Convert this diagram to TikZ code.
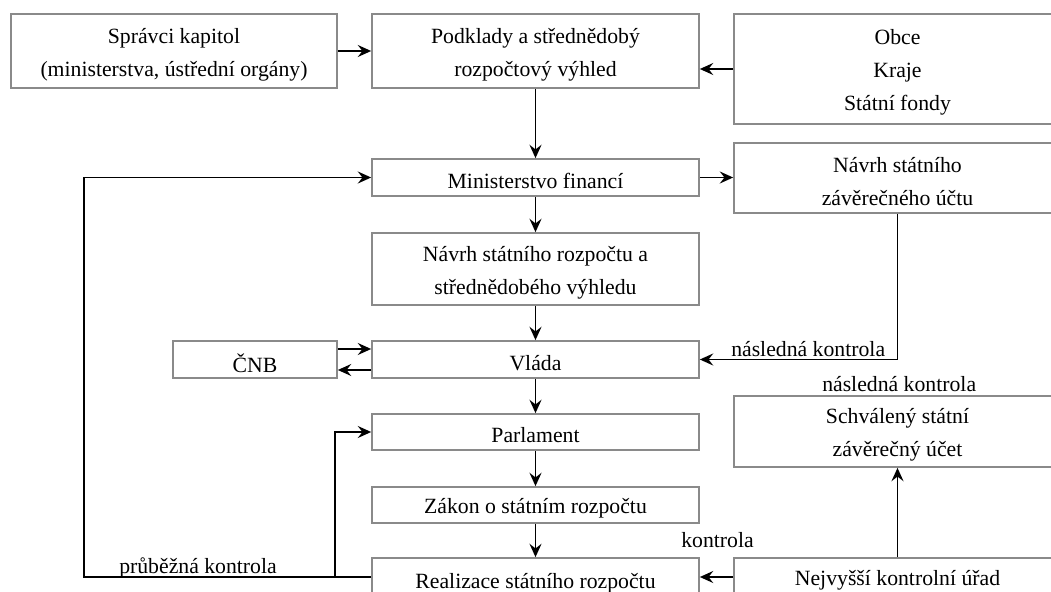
\documentclass[tikz,border=0pt]{standalone}
\usepackage{fontspec}
\setmainfont{Liberation Serif}
\usetikzlibrary{arrows.meta}
\definecolor{boxgray}{HTML}{8A8A8A}
\def\u{0.75pt}
% box frame plus its text, the text set slightly low in the frame
\newcommand\boxnode[5]{%
  \node[frame, minimum width=#3*\u, minimum height=#4*\u] (#1) at (#2) {};
  \node[txt, align=center, inner sep=0pt, yshift=-2.6pt] (#1-t) at (#1.center) {#5};}
\begin{document}
\begin{tikzpicture}[x=0.75pt, y=-0.75pt,
  txt/.style={font=\fontsize{16.3pt}{24.75pt}\selectfont},
  frame/.style={draw=boxgray, line width=1.3pt, fill=white, inner sep=0pt},
  arr/.style={draw=black, line width=1.3pt, -{Stealth[length=10pt,width=9pt,inset=3.5pt]}},
  lbl/.style={txt, inner sep=0pt, anchor=base west}]
\useasboundingbox (0,0) rectangle (1051,592);
\fill[white] (0,0) rectangle (1051,592);
\clip (0,0) rectangle (1051,592);

% boxes
\boxnode{spr}{174,51}{326}{74}{Správci kapitol\\(ministerstva, ústřední orgány)}
\boxnode{pod}{535.5,51}{327}{74}{Podklady a střednědobý\\rozpočtový výhled}
\boxnode{obce}{897.5,69}{327}{110}{Obce\\Kraje\\Státní fondy}
\boxnode{mf}{535.5,177.5}{327}{37}{Ministerstvo financí}
\boxnode{szu}{897.5,178}{327}{70}{Návrh státního\\závěrečného účtu}
\boxnode{nsr}{535.5,269}{327}{72}{Návrh státního rozpočtu a\\střednědobého výhledu}
\boxnode{cnb}{255,359.5}{164}{37}{ČNB}
\boxnode{vlada}{535.5,359.5}{327}{37}{Vláda}
\boxnode{schv}{897.5,431.5}{327}{71}{Schválený státní\\závěrečný účet}
\boxnode{parl}{535.5,432}{327}{36}{Parlament}
\boxnode{zakon}{535.5,505}{327}{36}{Zákon o státním rozpočtu}
\boxnode{real}{535.5,580}{327}{44}{Realizace státního rozpočtu}
\boxnode{nku}{897.5,577}{327}{38}{Nejvyšší kontrolní úřad}

% helper coordinates
\coordinate (c1) at (0,349);
\coordinate (c2) at (0,370);
\coordinate (r1) at (0,577);
\coordinate (lx) at (84,577);
\coordinate (bx) at (335,577);

% connectors
\draw[arr] (spr) -- (pod);
\draw[arr] (obce.west) -- (obce.west -| pod.east);
\draw[arr] (pod) -- (mf);
\draw[arr] (mf) -- (nsr);
\draw[arr] (mf.east) -- (mf.east -| szu.west);
\draw[arr] (nsr) -- (vlada);
\draw[arr] (szu.south) |- (vlada.east);
\draw[arr] (cnb.east |- c1) -- (vlada.west |- c1);
\draw[arr] (vlada.west |- c2) -- (cnb.east |- c2);
\draw[arr] (vlada) -- (parl);
\draw[arr] (parl) -- (zakon);
\draw[arr] (zakon) -- (real);
\draw[arr] (nku.west |- r1) -- (real.east |- r1);
\draw[arr] (nku.north) -- (schv.south);
\draw[arr] (real.west |- r1) -- (lx) |- (mf.west);
\draw[arr] (bx) |- (parl.west);

% labels
\node[lbl] (l1) at (731,356) {následná kontrola};
\node[lbl] (l2) at (822,391) {následná kontrola};
\node[lbl] (l3) at (681,547) {kontrola};
\node[lbl] (l4) at (119,573) {průběžná kontrola};
\end{tikzpicture}
\end{document}
